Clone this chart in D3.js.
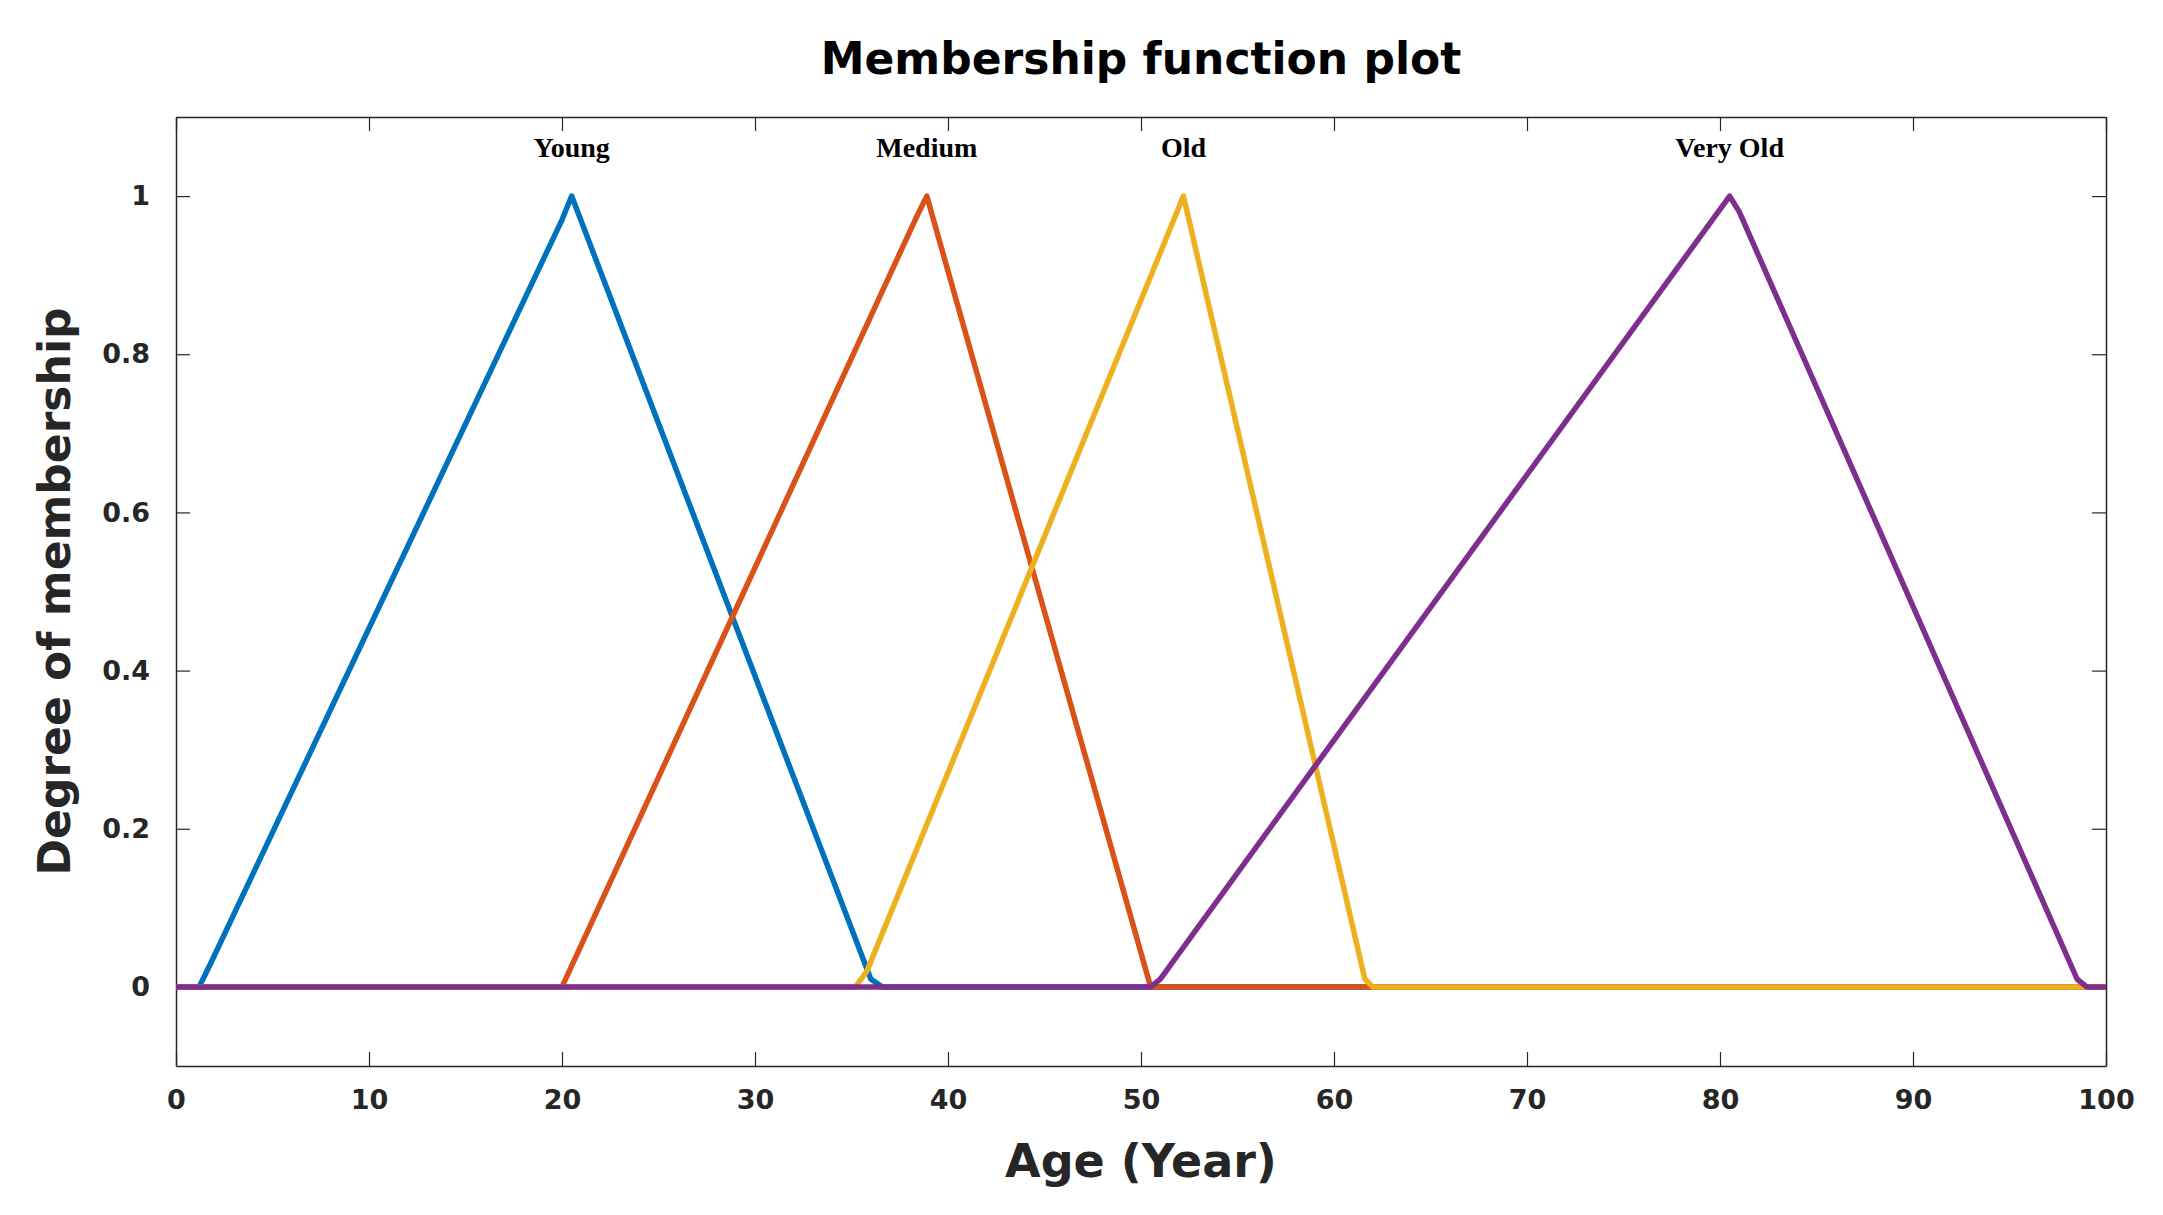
<!DOCTYPE html>
<html><head><meta charset="utf-8">
<script src="https://cdn.jsdelivr.net/npm/d3@7"></script>
<style>body{margin:0;background:#fff}</style></head>
<body><svg id="c" width="2163" height="1215"></svg>
<script>
const seriesNames = ["Young","Medium","Old","Very Old"];
const seriesColors = ["#0072BD","#D95319","#EDB120","#7E2F8E"];
const young = [[0,0],[1.2,0],[1.8,0.03],[20,0.97],[20.5,1],[36,0.01],[36.6,0],[100,0]];
const medium = [[0,0],[20,0],[38.3,0.97],[38.9,1],[50.5,0],[100,0]];
const old = [[0,0],[35.2,0],[35.8,0.02],[52.2,1],[61.6,0.01],[62,0],[100,0]];
const veryOld = [[0,0],[50.5,0],[51,0.01],[80.5,1],[81,0.98],[98.5,0.01],[99,0],[100,0]];
const labelX = [20.5,38.9,52.2,80.5];
const xTicks = [0,10,20,30,40,50,60,70,80,90,100];
const yTicks = [0,0.2,0.4,0.6,0.8,1];

const L=176,R=2106,T=117,B=1066;
const svg=d3.select("#c");
const x=d3.scaleLinear().domain([0,100]).range([L,R]);
const y=d3.scaleLinear().domain([-0.1,1.1]).range([B,T]);
const tk=14, axc="#262626";
const fmt=d=>d3.format("~g")(d);
const g=svg.append("g");
const styleAx=(s)=>{s.selectAll("path").attr("stroke",axc).attr("stroke-width",1.5);s.selectAll("line").attr("stroke",axc).attr("stroke-width",1.2);
 s.selectAll("text").attr("font-family","DejaVu Sans").attr("font-weight","bold").attr("font-size",27).attr("fill",axc);};
g.append("g").attr("transform",`translate(0,${B})`).call(d3.axisBottom(x).tickValues(xTicks).tickSizeInner(-tk).tickSizeOuter(0).tickPadding(24).tickFormat(fmt)).call(styleAx);
g.append("g").attr("transform",`translate(0,${T})`).call(d3.axisTop(x).tickValues(xTicks).tickSizeInner(-tk).tickSizeOuter(0).tickFormat("")).call(styleAx);
g.append("g").attr("transform",`translate(${L},0)`).call(d3.axisLeft(y).tickValues(yTicks).tickSizeInner(-tk).tickSizeOuter(0).tickPadding(26).tickFormat(fmt)).call(styleAx);
g.append("g").attr("transform",`translate(${R},0)`).call(d3.axisRight(y).tickValues(yTicks).tickSizeInner(-tk).tickSizeOuter(0).tickFormat("")).call(styleAx);

const line=d3.line().x(d=>x(d[0])).y(d=>y(d[1]));
[young,medium,old,veryOld].forEach((s,i)=>{
 svg.append("path").attr("d",line(s)).attr("fill","none").attr("stroke",seriesColors[i]).attr("stroke-width",5.5).attr("stroke-linejoin","round");
 svg.append("text").attr("x",x(labelX[i])).attr("y",y(1.05)).attr("text-anchor","middle")
  .attr("font-family","Liberation Serif").attr("font-weight","bold").attr("font-size",28).text(seriesNames[i]);
});
svg.append("text").attr("x",(L+R)/2).attr("y",74).attr("text-anchor","middle").attr("font-family","DejaVu Sans").attr("font-weight","900").attr("font-size",44).attr("fill","#000").text("Membership function plot");
svg.append("text").attr("x",(L+R)/2).attr("y",1177).attr("text-anchor","middle").attr("font-family","DejaVu Sans").attr("font-weight","bold").attr("font-size",46).attr("fill",axc).text("Age (Year)");
svg.append("text").attr("transform",`translate(70,${(T+B)/2}) rotate(-90)`).attr("text-anchor","middle").attr("font-family","DejaVu Sans").attr("font-weight","bold").attr("font-size",44).attr("fill",axc).text("Degree of membership");
</script></body></html>
